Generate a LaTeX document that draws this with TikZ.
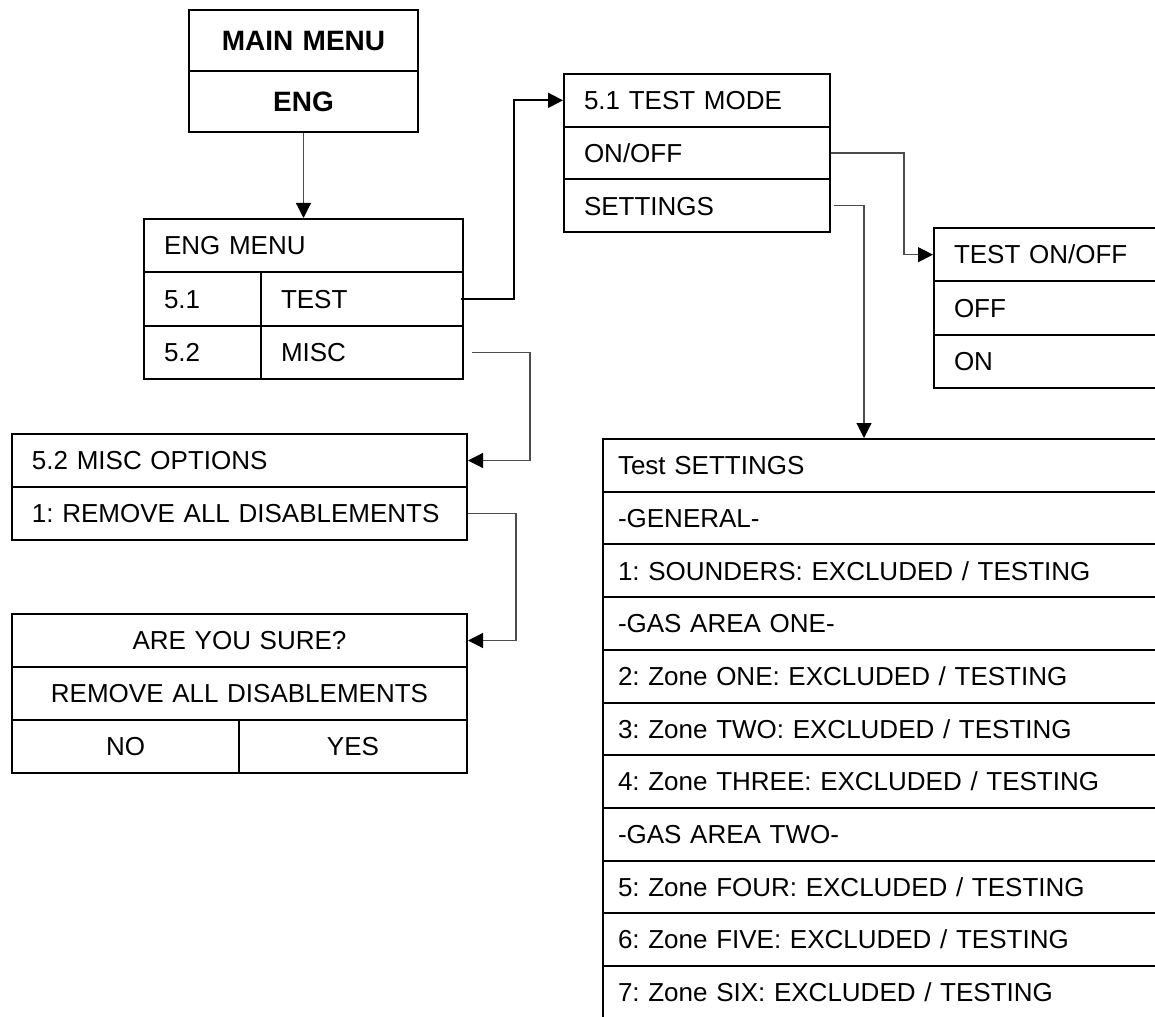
\documentclass[tikz,border=0pt]{standalone}
\usepackage{fontspec}
\setmainfont{Liberation Sans}
\usetikzlibrary{arrows.meta}
\frenchspacing
\newcommand\menufont{\fontsize{13}{15}\selectfont}
\newcommand\titlefont{\fontsize{14}{16}\selectfont\bfseries}
\tikzset{
  cell/.style={draw, line width=1pt, anchor=north west, inner xsep=10pt, inner ysep=0pt,
    align=left, text height=9.3pt, text depth=0pt, minimum height=#1, font=\menufont},
  cell/.default=26.5pt,
  headcell/.style={cell=30.5pt, align=center, font=\titlefont, text height=10pt},
  setcell/.style={cell=26.35pt, inner xsep=7.5pt, text width=285pt},
  link/.style={draw=black!70, line width=0.6pt, -{Triangle[length=7.5pt,width=7.5pt,color=black]}}
}

\begin{document}
\begin{tikzpicture}[x=0.5pt, y=-0.5pt]
    \path[use as bounding box, clip] (0,0) rectangle (1155,1016);
    % Main menu
    \node[headcell, text width=94.5pt] (mm1) at (188,9) {MAIN MENU};
    \node[headcell, text width=94.5pt] (mm2) at (188,70) {ENG};
    % Eng menu
    \node[cell=26.67pt, text width=139.5pt] (eng1) at (143,218) {ENG MENU};
    \node[cell=26.67pt, text width=38.5pt] (engn1) at (143,271.3) {5.1};
    \node[cell=26.67pt, text width=81pt] (engt) at (260,271.3) {TEST};
    \node[cell=26.67pt, text width=38.5pt] (engn2) at (143,324.7) {5.2};
    \node[cell=26.67pt, text width=81pt] (engm) at (260,324.7) {MISC};
    % Test mode
    \node[cell=26.35pt, text width=113pt] (tm1) at (563,73) {5.1 TEST MODE};
    \node[cell=26.35pt, text width=113pt] (tm2) at (563,125.7) {ON/OFF};
    \node[cell=26.35pt, text width=113pt] (tm3) at (563,178.4) {SETTINGS};
    % Test on/off
    \node[cell=26.67pt, text width=114pt] (to1) at (933,227) {TEST ON/OFF};
    \node[cell=26.67pt, text width=114pt] (to2) at (933,280.3) {OFF};
    \node[cell=26.67pt, text width=114pt] (to3) at (933,333.7) {ON};
    % Misc options
    \node[cell, text width=207.5pt] (misc1) at (11,433) {5.2 MISC OPTIONS};
    \node[cell, text width=207.5pt] (misc2) at (11,486) {1: REMOVE ALL DISABLEMENTS};
    % Confirm
    \node[cell, text width=207.5pt, align=center] (ays1) at (11,613) {ARE YOU SURE?};
    \node[cell, text width=207.5pt, align=center] (ays2) at (11,666) {REMOVE ALL DISABLEMENTS};
    \node[cell, text width=93.5pt, align=center] (ays3) at (11,719) {NO};
    \node[cell, text width=94pt, align=center] (ays4) at (238,719) {YES};
    % Test settings
    \node[setcell] (ts1) at (602,438) {Test SETTINGS};
    \node[setcell] (ts2) at (602,490.7) {-GENERAL-};
    \node[setcell] (ts3) at (602,543.4) {1: SOUNDERS: EXCLUDED / TESTING};
    \node[setcell] (ts4) at (602,596.1) {-GAS AREA ONE-};
    \node[setcell] (ts5) at (602,648.8) {2: Zone ONE: EXCLUDED / TESTING};
    \node[setcell] (ts6) at (602,701.5) {3: Zone TWO: EXCLUDED / TESTING};
    \node[setcell] (ts7) at (602,754.2) {4: Zone THREE: EXCLUDED / TESTING};
    \node[setcell] (ts8) at (602,806.9) {-GAS AREA TWO-};
    \node[setcell] (ts9) at (602,859.6) {5: Zone FOUR: EXCLUDED / TESTING};
    \node[setcell] (ts10) at (602,912.3) {6: Zone FIVE: EXCLUDED / TESTING};
    \node[setcell] (ts11) at (602,965) {7: Zone SIX: EXCLUDED / TESTING};
    % Connectors
    \draw[link] (mm2.south) -- (eng1.north);
    \draw[link, draw=black, line width=1pt] ([xshift=-1.5pt]engt.east) -- ++(26.5pt,0) |- (tm1.west);
    \draw[link] ([xshift=4pt]engm.east) -- ++(29pt,0) |- (misc1.east);
    \draw[link] (misc2.east) -- ++(24pt,0) |- (ays1.east);
    \draw[link] (tm2.east) -- ++(36.5pt,0) |- (to1.west);
    \draw[link] ([xshift=1.5pt]tm3.east) -- ++(15pt,0) coordinate (sbend) -- (sbend |- ts1.north);
\end{tikzpicture}
\end{document}
